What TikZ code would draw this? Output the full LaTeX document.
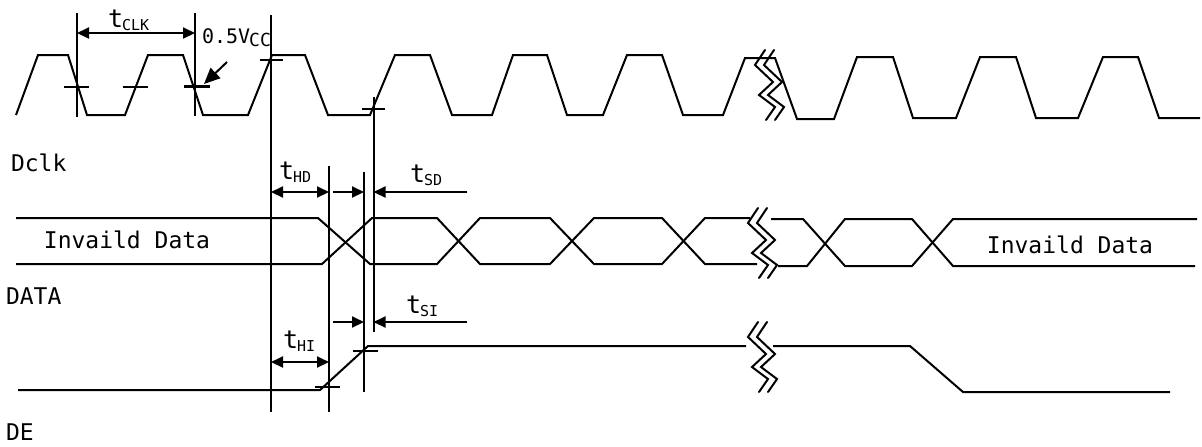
\documentclass[tikz,border=0pt]{standalone}
\usepackage{fontspec}
\setmainfont{DejaVu Sans Mono}
\usetikzlibrary{arrows.meta, calc}
\newcommand{\tsub}[1]{t\kern-0.5pt\lower1.5pt\hbox{\fontsize{7.5}{8}\selectfont #1}}

\begin{document}
\begin{tikzpicture}[x=0.5pt, y=-0.5pt, line width=1pt,
    >={Triangle[length=6pt, width=5.5pt]},
    lbl/.style={inner sep=0pt, font=\fontsize{11.5}{13}\selectfont},
    tlbl/.style={inner sep=0pt, anchor=base west, font=\fontsize{12.5}{14}\selectfont},
    brk/.pic={
        \draw[line cap=round] (0,-35) -- (-10,-20) -- (8,-3) -- (-6,10) -- (10,22) -- (1,35);
        \draw[line cap=round] (9,-35) -- (-1,-20) -- (17,-3) -- (3,10) -- (19,22) -- (10,35);
    }]
    \useasboundingbox (0,0) rectangle (1202,446);

    \draw (16,115) -- (38,55) -- (68,55) -- (87,115) -- (125,115) -- (148,55) -- (183,55) -- (203,115) -- (248,115) -- (272,55) -- (305,55) -- (328,115) -- (370,115) -- (395,55) -- (430,55) -- (452,115) -- (492,115) -- (513,55) -- (547,55) -- (567,115) -- (603,115) -- (627,55) -- (662,55) -- (683,115) -- (723,115) -- (745,58) -- (775,58) -- (797,119) -- (834,119) -- (857,57) -- (893,57) -- (913,118) -- (956,118) -- (980,57) -- (1016,57) -- (1036,118) -- (1078,118) -- (1103,57) -- (1138,57) -- (1159,118) -- (1200,118);

    \draw (16,218) -- (318,218) -- (370,264) -- (437,264) -- (480,218) -- (550,218) -- (594,264) -- (662,264) -- (705,218) -- (750,218);
    \draw (16,264) -- (322,264) -- (372,218) -- (437,218) -- (480,264) -- (550,264) -- (594,218) -- (662,218) -- (705,264) -- (757,264);
    \draw (771,219) -- (803,219) -- (845,266) -- (912,266) -- (953,219) -- (1197,219);
    \draw (778,266) -- (807,266) -- (845,219) -- (912,219) -- (953,266) -- (1195,266);

    \draw (18,390) -- (320,390) -- (368,346) -- (746,346);
    \draw (773,346) -- (910,346) -- (963,392) -- (1170,392);

    \pic at (765,85) {brk};
    \pic at (758,243) {brk};
    \pic at (758,357) {brk};

    \coordinate (k1) at (77,13);    \coordinate (k1b) at (77,117);
    \coordinate (k2) at (195,13);   \coordinate (k2b) at (195,116);
    \coordinate (tA) at (271,15);   \coordinate (tAb) at (271,412);
    \coordinate (tB) at (329,166);  \coordinate (tBb) at (329,412);
    \coordinate (tC) at (364,172);  \coordinate (tCb) at (364,392);
    \coordinate (tD) at (373.5,97); \coordinate (tDb) at (373.5,332);
    \draw (k1) -- (k1b);
    \draw (k2) -- (k2b);
    \draw (tA) -- (tAb);
    \draw (tB) -- (tBb);
    \draw (tC) -- (tCb);
    \draw (tD) -- (tDb);

    \draw (64,87) -- (89,87);
    \draw (123,87) -- (148,87);
    \draw[line width=1.5pt] (184,86) -- (210,86);
    \draw (260,60) -- (283,60);
    \draw (362,109) -- (385,109);
    \draw (315,387) -- (340,387);
    \draw (353,351) -- (378,351);

    \coordinate (rCLK) at (0,33);
    \coordinate (rHD) at (0,192);
    \coordinate (rSD) at (333,192);
    \coordinate (rSDe) at (467,192);
    \coordinate (rSI) at (333,322);
    \coordinate (rSIe) at (467,322);
    \coordinate (rHI) at (0,362);
    \draw[<->] (k1 |- rCLK) -- (k2 |- rCLK);
    \draw[<->] (tA |- rHD) -- (tB |- rHD);
    \draw[->] (rSD) -- (tC |- rSD);
    \draw[->] (rSDe) -- (tD |- rSDe);
    \draw[->] (rSI) -- (tC |- rSI);
    \draw[->] (rSIe) -- (tD |- rSIe);
    \draw[<->] (tA |- rHI) -- (tB |- rHI);

    \node (vcc) [lbl, anchor=base west, font=\fontsize{10}{11}\selectfont] at (201,43) {0.5V\kern-0.5pt\lower1.5pt\hbox{\fontsize{9}{10}\selectfont CC}};
    \coordinate (vcS) at (227,62);
    \coordinate (vcT) at (204,84);
    \draw[-{Triangle[length=8pt, width=7pt]}] (vcS) -- (vcT);

    \node (clk) [tlbl] at (107,27) {\tsub{CLK}};
    \node (hd) [tlbl] at (278,179) {\tsub{HD}};
    \node (sd) [tlbl] at (409,182) {\tsub{SD}};
    \node (hi) [tlbl] at (282,348) {\tsub{HI}};
    \node (si) [tlbl] at (405,313) {\tsub{SI}};

    \node (dclk) [lbl, anchor=base west] at (10,171) {Dclk};
    \node (inL) [lbl, anchor=base] at (127,248) {Invaild Data};
    \node (inR) [lbl, anchor=base] at (1070,253) {Invaild Data};
    \node (data) [lbl, anchor=base west] at (5,304) {DATA};
    \node (de) [lbl, anchor=base west] at (5,440) {DE};
\end{tikzpicture}
\end{document}
